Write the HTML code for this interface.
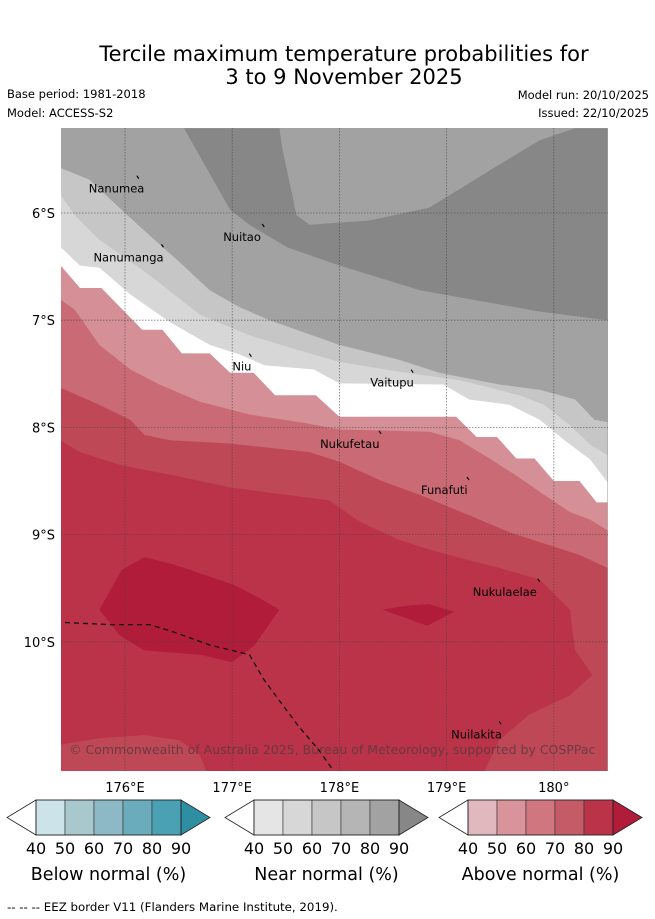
<!DOCTYPE html>
<html><head><meta charset="utf-8"><style>
body{margin:0;background:#fff;width:655px;height:919px;overflow:hidden;font-family:"Liberation Sans","DejaVu Sans",sans-serif}
svg{position:absolute;left:0;top:0}
</style></head><body>
<svg id="s" width="655" height="919" viewBox="0 0 655 919" font-family="DejaVu Sans, Liberation Sans, sans-serif">
<text x="344" y="61" text-anchor="middle" font-size="21">Tercile maximum temperature probabilities for</text>
<text x="344" y="84" text-anchor="middle" font-size="21">3 to 9 November 2025</text>
<text x="7" y="98" font-size="11.5">Base period: 1981-2018</text>
<text x="7" y="117" font-size="11.5">Model: ACCESS-S2</text>
<text x="649" y="99" font-size="11.5" text-anchor="end">Model run: 20/10/2025</text>
<text x="649" y="117" font-size="11.5" text-anchor="end">Issued: 22/10/2025</text>
<defs><clipPath id="mc"><rect x="61" y="128" width="547" height="643"/></clipPath></defs>
<g id="map" clip-path="url(#mc)"></g>
<g id="over"></g>
<g id="cbars"></g>
<text x="7" y="911" font-size="11.8">--  --  -- EEZ border V11 (Flanders Marine Institute, 2019).</text>
</svg>
<script>
const lonTicks=[176,177,178,179,180];
const lonTickLabels=["176°E","177°E","178°E","179°E","180°"];
const latTicks=[-6,-7,-8,-9,-10];
const latTickLabels=["6°S","7°S","8°S","9°S","10°S"];
const bandColors=["#a2a2a2","#878787","#c6c6c6","#d7d7d7","#ffffff","#d48f97","#ca6a74","#bf4856","#bb3349","#b01c3a"];
const darkTongue=[[176.55,-5.21],[176.98,-5.97],[177.16,-6.11],[177.51,-6.32],[178.00,-6.49],[178.75,-6.72],[179.87,-6.92],[180.5,-7.00],[180.5,-5.21],[180.20,-5.21],[179.87,-5.32],[179.49,-5.55],[178.84,-5.95],[178.28,-6.07],[177.72,-6.11],[177.60,-6.02],[177.47,-5.41],[177.44,-5.21]];
const line60=[[175.40,-5.58],[175.67,-5.69],[176.00,-6.00],[176.23,-6.21],[176.51,-6.46],[176.79,-6.72],[177.07,-6.88],[177.35,-7.00],[178.00,-7.23],[178.56,-7.37],[178.93,-7.49],[179.49,-7.60],[179.87,-7.65],[180.20,-7.74],[180.38,-7.93],[180.50,-7.95]];
const line50=[[175.40,-5.83],[175.53,-6.02],[175.76,-6.25],[176.23,-6.58],[176.70,-6.95],[177.16,-7.14],[177.62,-7.28],[178.00,-7.39],[178.56,-7.48],[179.12,-7.56],[179.49,-7.65],[179.68,-7.70],[179.91,-7.79],[180.15,-7.98],[180.34,-8.16],[180.50,-8.26]];
const line40=[[175.40,-6.32],[175.58,-6.49],[175.76,-6.51],[176.05,-6.76],[176.42,-7.02],[176.79,-7.23],[177.07,-7.32],[177.30,-7.42],[177.76,-7.46],[178.00,-7.59],[178.97,-7.60],[179.21,-7.74],[179.59,-7.79],[179.87,-7.93],[180.10,-8.12],[180.34,-8.30],[180.50,-8.51]];
const lineA50=[[175.40,-6.49],[175.58,-6.70],[175.78,-6.70],[176.16,-7.09],[176.35,-7.09],[176.53,-7.31],[176.79,-7.31],[176.98,-7.49],[177.20,-7.49],[177.40,-7.70],[177.78,-7.70],[178.00,-7.90],[179.09,-7.90],[179.28,-8.09],[179.47,-8.09],[179.65,-8.29],[179.82,-8.29],[180.00,-8.50],[180.24,-8.50],[180.40,-8.70],[180.50,-8.70]];
const lineA60=[[175.40,-6.81],[175.53,-6.90],[175.76,-7.23],[176.05,-7.46],[176.32,-7.60],[176.70,-7.76],[177.16,-7.88],[177.62,-7.95],[178.00,-8.02],[178.84,-8.04],[179.12,-8.12],[179.40,-8.29],[179.68,-8.47],[179.91,-8.63],[180.15,-8.79],[180.34,-8.86],[180.50,-8.96]];
const lineA70=[[175.40,-7.63],[175.76,-7.79],[176.05,-7.93],[176.18,-8.07],[176.42,-8.12],[176.98,-8.15],[177.72,-8.23],[178.00,-8.32],[178.37,-8.49],[178.75,-8.63],[179.21,-8.82],[179.59,-8.98],[179.96,-9.10],[180.24,-9.19],[180.50,-9.31]];
const polyA80=[[175.40,-8.12],[175.58,-8.23],[175.95,-8.35],[176.42,-8.44],[176.98,-8.56],[177.35,-8.61],[177.90,-8.68],[178.19,-8.88],[178.56,-9.05],[178.84,-9.14],[179.21,-9.24],[179.49,-9.31],[179.87,-9.42],[180.15,-9.70],[180.20,-10.08],[180.36,-10.31],[180.15,-10.50],[179.77,-10.68],[179.49,-10.92],[179.35,-11.21],[176.76,-11.21],[176.70,-11.06],[176.51,-10.92],[176.18,-10.87],[175.76,-10.90],[175.40,-10.96]];
const blobA90a=[[175.76,-9.70],[175.97,-9.33],[176.18,-9.21],[176.46,-9.28],[177.02,-9.47],[177.25,-9.59],[177.44,-9.70],[177.21,-10.03],[177.00,-10.19],[176.70,-10.12],[176.18,-10.08],[175.95,-9.94]];
const blobA90b=[[178.40,-9.70],[178.65,-9.66],[178.84,-9.65],[179.07,-9.72],[178.82,-9.85]];
const eezBorder=[[175.44,-9.82],[175.86,-9.84],[176.23,-9.84],[176.46,-9.91],[176.79,-10.03],[177.16,-10.12],[177.30,-10.36],[177.62,-10.79],[177.81,-11.01],[177.95,-11.21]];
const islandNames=["Nanumea","Nuitao","Nanumanga","Niu","Vaitupu","Nukufetau","Funafuti","Nukulaelae","Nuilakita"];
const islandLon=[176.11,177.28,176.34,177.16,178.67,178.37,179.19,179.85,179.49];
const islandLat=[-5.68,-6.13,-6.32,-7.34,-7.49,-8.06,-8.49,-9.44,-10.77];
const labelDx=[-48,-39,-68,-17,-41,-59,-46,-65,-48];
const cbLevels=["40","50","60","70","80","90"];
const cbTitles=["Below normal (%)","Near normal (%)","Above normal (%)"];
const cbColors=[["#cce3e9","#a8c8cd","#8cb9c5","#6aacbc","#49a1b3","#2e8fa3"],["#e5e5e5","#d7d7d7","#c6c6c6","#b5b5b5","#a2a2a2","#878787"],["#e2b8bf","#d9939b","#cf767f","#c45b66","#bb3349","#b01c3a"]];

const NS="http://www.w3.org/2000/svg";
const X=lon=>125+(lon-176)*107.2;
const Y=lat=>213+(-lat-6)*107.2;
function mk(p,tag,at){const e=document.createElementNS(NS,tag);for(const k in at)e.setAttribute(k,at[k]);p.appendChild(e);return e;}
const map=document.getElementById('map'),over=document.getElementById('over'),cb=document.getElementById('cbars');
const pts=a=>a.map(p=>X(p[0]).toFixed(1)+','+Y(p[1]).toFixed(1)).join(' ');
function below(line){return pts(line)+' '+X(180.5)+','+Y(-11.3)+' '+X(175.4)+','+Y(-11.3);}
let r=mk(map,'rect',{x:61,y:128,width:547,height:643,fill:bandColors[0]});


const shapes=[[darkTongue,1,'band-near-90',false],[line60,2,'band-near-60',true],[line50,3,'band-near-50',true],[line40,4,'band-neutral',true],[lineA50,5,'band-above-50',true],[lineA60,6,'band-above-60',true],[lineA70,7,'band-above-70',true],[polyA80,8,'band-above-80',false],[blobA90a,9,'band-above-90-west',false],[blobA90b,9,'band-above-90-east',false]];
shapes.forEach(s=>{const p=mk(map,'polygon',{points:s[3]?below(s[0]):pts(s[0]),fill:bandColors[s[1]]});

});
lonTicks.forEach((l,i)=>{const g=mk(map,'line',{x1:X(l),x2:X(l),y1:128,y2:771,stroke:'#444','stroke-width':0.8,'stroke-dasharray':'1.5,1.5',opacity:0.7});


const t=mk(over,'text',{x:X(l),y:792,'text-anchor':'middle','font-size':13});t.textContent=lonTickLabels[i];

});
latTicks.forEach((l,i)=>{const g=mk(map,'line',{x1:61,x2:608,y1:Y(l),y2:Y(l),stroke:'#444','stroke-width':0.8,'stroke-dasharray':'1.5,1.5',opacity:0.7});


const t=mk(over,'text',{x:55,y:Y(l)+5,'text-anchor':'end','font-size':13});t.textContent=latTickLabels[i];

});
const ez=mk(map,'polyline',{points:pts(eezBorder),fill:'none',stroke:'#111','stroke-width':1.3,'stroke-dasharray':'5,4'});


islandNames.forEach((n,i)=>{const x=X(islandLon[i]),y=Y(islandLat[i]);
const m=mk(map,'line',{x1:x,y1:y-3,x2:x+2,y2:y,stroke:'#000','stroke-width':1.2});


const t=mk(map,'text',{x:x+labelDx[i],y:y+14,'font-size':11.5});t.textContent=n;

});
const cp=mk(map,'text',{x:69,y:754,'font-size':12.5,fill:'#5a3a3f','fill-opacity':0.85});cp.textContent='© Commonwealth of Australia 2025, Bureau of Meteorology, supported by COSPPac';


const cbX=[7,225,439];
cbX.forEach((x0,k)=>{const bx=x0+29,w=29,y0=800,h=35;
const lt=mk(cb,'polygon',{points:`${bx},${y0} ${x0},${y0+h/2} ${bx},${y0+h}`,fill:'#fff',stroke:'#222','stroke-width':0.8});


for(let i=0;i<5;i++){const b=mk(cb,'rect',{x:bx+i*w,y:y0,width:w,height:h,fill:cbColors[k][i],stroke:'#333','stroke-width':0.6});

}
const rt=mk(cb,'polygon',{points:`${bx+5*w},${y0} ${bx+6*w},${y0+h/2} ${bx+5*w},${y0+h}`,fill:cbColors[k][5],stroke:'#222','stroke-width':0.8});


const fr=mk(cb,'rect',{x:bx,y:y0,width:5*w,height:h,fill:'none',stroke:'#222','stroke-width':0.8});


cbLevels.forEach((l,i)=>{const t=mk(cb,'text',{x:bx+i*w,y:854,'text-anchor':'middle','font-size':16});t.textContent=l;

});
const tt=mk(cb,'text',{x:bx+2.5*w,y:880,'text-anchor':'middle','font-size':17.5});tt.textContent=cbTitles[k];

});
</script>
</body></html>
